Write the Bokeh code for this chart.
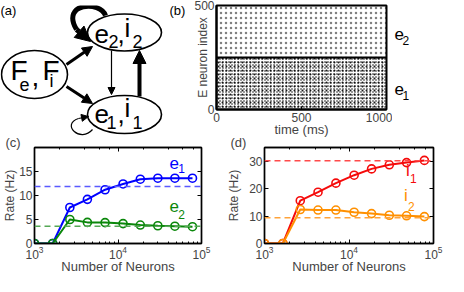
from bokeh.plotting import figure
from bokeh.layouts import column, row
from bokeh.models import (Range1d, FixedTicker, LogAxis, LinearAxis, LogTicker,
                          Label, Arrow, NormalHead, Span, Title)
from bokeh.embed import file_html
from bokeh.resources import INLINE

FONT = "Liberation Sans"

# ---------------- data ----------------
# (a) network diagram: nodes F, (e2,i2), (e1,i1); y measured downward
node_x = [42, 132, 132]
node_y = [77, 35, 117]
node_w = [66, 74, 74]
node_h = [48, 37, 38]
# straight connections: F->e2, F->e1, e2->e1, e1->e2
arrow_x0 = [74, 74, 119, 147]
arrow_y0 = [67, 89, 53, 99]
arrow_x1 = [100, 100, 119, 147]
arrow_y1 = [49, 106, 97, 53]
arrow_lw = [3, 3, 1.2, 4]
arrow_head = [10, 10, 7, 13]
# self connections (e2->e2 strong, e1->e1 weak)
loop_x0 = [113, 100]
loop_y0 = [18, 132]
loop_cx0 = [108, 88]
loop_cy0 = [3, 146]
loop_cx1 = [68, 68]
loop_cy1 = [5, 127]
loop_x1 = [84, 86]
loop_y1 = [32, 121]
loop_tip_x = [98, 96]
loop_tip_y = [44, 119]
loop_lw = [5, 1.2]
loop_head = [15, 7]

# (b) raster
t_start = [0]
t_end = [1000]
pop_lo = [0, 250]      # e1, e2 neuron index ranges
pop_hi = [250, 500]
raster_xticks = [0, 500, 1000]
raster_yticks = [0, 500]

# (c), (d) rates vs network size
n_neurons = [1000, 1650, 2650, 4300, 7000, 11500, 18500, 30000, 48000, 78000]
rate_e1 = [0, 0, 7.5, 9.2, 11.2, 12.4, 13.4, 13.6, 13.6, 13.6]
rate_e2 = [0, 0, 5.0, 4.4, 4.35, 4.15, 3.85, 3.7, 3.6, 3.5]
rate_i1 = [0, 0, 15.6, 18.7, 22.0, 24.9, 27.2, 28.7, 29.5, 30.3]
rate_i2 = [0, 0, 12.4, 12.2, 12.2, 11.4, 10.9, 10.3, 10.1, 9.8]
theory_e1 = 11.9
theory_e2 = 3.6
theory_i1 = 30.2
theory_i2 = 9.4
e_yticks = [0, 5, 10, 15]
i_yticks = [0, 10, 20, 30]

C_E1, C_E1D = "#0000ff", "#5a5aff"
C_E2, C_E2D = "#0a870a", "#55a855"
C_I1, C_I1D = "#f50a0a", "#ff4a4a"
C_I2, C_I2D = "#ff9000", "#ffa33a"


def lab(p, x, y, text, size, color="black", **kw):
    p.add_layout(Label(x=x, y=y, text=text, text_font=FONT, text_font_size=f"{size}px",
                       text_color=color, **kw))


def clear(p):
    p.border_fill_color = None
    p.background_fill_color = None


def blank_fig(width, x0, x1):
    p = figure(frame_width=width, frame_height=140, x_range=Range1d(x0, x1),
               y_range=Range1d(148, 8), toolbar_location=None, output_backend="svg",
               title=None, min_border_left=0, min_border_right=0, min_border_top=0,
               min_border_bottom=0, outline_line_color=None)
    p.axis.visible = False
    p.grid.visible = False
    clear(p)
    return p


# ---------------- (a) ----------------
pa = blank_fig(188, 8, 196)
pa.bezier(x0=loop_x0, y0=loop_y0, x1=loop_x1, y1=loop_y1, cx0=loop_cx0, cy0=loop_cy0,
          cx1=loop_cx1, cy1=loop_cy1, line_width=loop_lw, line_color="black")
pa.ellipse(x=node_x, y=node_y, width=node_w, height=node_h, fill_color="white",
           line_color="black", line_width=1.6)
for i in range(len(arrow_x0)):
    pa.add_layout(Arrow(end=NormalHead(size=arrow_head[i], fill_color="black", line_color="black",
                                       line_width=1),
                        x_start=arrow_x0[i], y_start=arrow_y0[i], x_end=arrow_x1[i],
                        y_end=arrow_y1[i], line_width=arrow_lw[i], line_color="black"))
for i in range(len(loop_x1)):
    pa.add_layout(Arrow(end=NormalHead(size=loop_head[i], fill_color="black", line_color="black",
                                       line_width=1),
                        x_start=loop_x1[i], y_start=loop_y1[i], x_end=loop_tip_x[i],
                        y_end=loop_tip_y[i], line_width=loop_lw[i], line_color="black"))
lab(pa, 8, 20, "(a)", 13)
lab(pa, 177, 20, "(b)", 13)
# F_e , F_i
lab(pa, 18, 88, "F", 28)
lab(pa, 27, 93, "e", 18)
lab(pa, 39, 88, ",", 28)
lab(pa, 50, 88, "F", 28)
lab(pa, 57, 93, "i", 18)
# e2, i2
lab(pa, 102, 45, "e", 26)
lab(pa, 116, 50, "2", 18)
lab(pa, 125, 45, ",", 26)
lab(pa, 132, 45, "i", 26)
lab(pa, 140, 50, "2", 18)
# e1, i1
lab(pa, 102, 125, "e", 26)
lab(pa, 114, 131, "1", 18)
lab(pa, 125, 125, ",", 26)
lab(pa, 132, 125, "i", 26)
lab(pa, 140, 131, "1", 18)

# ---------------- (b) ----------------
pb = figure(width=204, height=140, x_range=Range1d(0, 1000), y_range=Range1d(0, 500),
            toolbar_location=None, output_backend="svg", title=None,
            min_border_left=28, min_border_right=6, min_border_top=5, min_border_bottom=31)
pb.grid.visible = False
clear(pb)
pb.outline_line_color = "black"
pb.outline_line_width = 2
for ax in (pb.xaxis, pb.yaxis):
    ax.axis_line_width = 2
    ax.major_tick_in = 3
    ax.major_tick_out = 0
    ax.minor_tick_line_color = None
    ax.major_label_text_font = FONT
    ax.major_label_text_font_size = "12px"
    ax.axis_label_text_font = FONT
    ax.axis_label_text_font_style = "normal"
pb.xaxis.ticker = FixedTicker(ticks=raster_xticks)
pb.yaxis.ticker = FixedTicker(ticks=raster_yticks)
pb.xaxis.major_label_standoff = 3
pb.yaxis.major_label_standoff = 2
pb.xaxis.axis_label = "time (ms)"
pb.xaxis.axis_label_text_font_size = "13px"
pb.xaxis.axis_label_standoff = -3
pb.yaxis.axis_label = "E neuron index"
pb.yaxis.axis_label_text_font_size = "12px"
pb.yaxis.axis_label_standoff = -19
# e1 (dense) and e2 (sparse) spike textures
for sc, al in [(3, 1.0), (4, 0.9)]:
    pb.quad(left=t_start, right=t_end, bottom=pop_lo[:1], top=pop_hi[:1], fill_color=None,
            line_color=None, hatch_pattern="dot", hatch_scale=sc, hatch_color="black",
            hatch_alpha=al)
pb.quad(left=t_start, right=t_end, bottom=pop_lo[1:], top=pop_hi[1:], fill_color=None,
        line_color=None, hatch_pattern="dot", hatch_scale=5, hatch_color="black",
        hatch_alpha=0.5)
pb.add_layout(Span(location=pop_hi[0], dimension="width", line_color="black", line_width=2))

# population labels to the right of the raster
pe = blank_fig(56, 400, 456)
lab(pe, 402, 42, "e", 17)
lab(pe, 410, 47, "2", 12)
lab(pe, 402, 97, "e", 17)
lab(pe, 410, 102, "1", 12)


# ---------------- (c), (d) ----------------
def rate_fig(letter, left, right, yticks, ymax, offset, ylab_standoff):
    t = Title(text=letter, align="left", offset=offset, standoff=-4, text_font=FONT,
              text_font_size="13px", text_font_style="normal")
    p = figure(width=224, height=151, x_axis_type="log", x_range=Range1d(1e3, 1e5),
               y_range=Range1d(0, ymax), toolbar_location=None, output_backend="svg",
               title=t, min_border_left=left, min_border_right=right, min_border_top=22,
               min_border_bottom=32)
    p.grid.visible = False
    clear(p)
    p.outline_line_color = "black"
    p.outline_line_width = 1.4
    for ax in (p.xaxis, p.yaxis):
        ax.axis_line_width = 1.4
        ax.major_tick_in = 4
        ax.major_tick_out = 0
        ax.minor_tick_in = 2
        ax.minor_tick_out = 0
        ax.major_label_text_font = FONT
        ax.major_label_text_font_size = "12px"
        ax.major_label_standoff = 2
        ax.axis_label_text_font = FONT
        ax.axis_label_text_font_style = "normal"
        ax.axis_label_text_font_size = "13px"
    p.xaxis.axis_label = "Number of Neurons"
    p.xaxis.axis_label_standoff = -3
    p.yaxis.axis_label = "Rate (Hz)"
    p.yaxis.axis_label_text_font_size = "12px"
    p.yaxis.axis_label_standoff = ylab_standoff
    p.yaxis.ticker = FixedTicker(ticks=yticks)
    p.yaxis.minor_tick_line_color = None
    p.add_layout(LogAxis(ticker=LogTicker(), major_label_text_font_size="1px",
                         major_label_text_alpha=0, major_tick_in=4,
                         major_tick_out=0, minor_tick_in=2, minor_tick_out=0,
                         axis_line_width=1.4, major_label_standoff=0), "above")
    p.add_layout(LinearAxis(ticker=FixedTicker(ticks=yticks), major_label_text_font_size="1px",
                            major_label_text_alpha=0,
                            major_tick_in=4, major_tick_out=0, minor_tick_line_color=None,
                            axis_line_width=1.4, major_label_standoff=0), "right")
    return p


def series(p, y, color, theory, dcolor):
    p.add_layout(Span(location=theory, dimension="width", line_color=dcolor, line_width=1.5,
                      line_dash="6 4"))
    p.line(n_neurons, y, line_color=color, line_width=2)
    p.scatter(n_neurons, y, marker="circle", size=8, fill_color=None, line_color=color,
              line_width=1.6)


pc = rate_fig("(c)", 29, 23, e_yticks, 20, -29, -1)
series(pc, rate_e1, C_E1, theory_e1, C_E1D)
series(pc, rate_e2, C_E2, theory_e2, C_E2D)
lab(pc, 41300, 15.6, "e", 17, color=C_E1)
lab(pc, 52600, 14.65, "1", 12, color=C_E1)
lab(pc, 41300, 6.5, "e", 17, color=C_E2)
lab(pc, 52600, 5.15, "2", 12, color=C_E2)

pd = rate_fig("(d)", 37, 15, i_yticks, 35, -34, 5)
series(pd, rate_i1, C_I1, theory_i1, C_I1D)
series(pd, rate_i2, C_I2, theory_i2, C_I2D)
lab(pd, 47200, 23.2, "i", 17, color=C_I1)
lab(pd, 52600, 22.2, "1", 12, color=C_I1)
lab(pd, 44800, 14.2, "i", 17, color=C_I2)
lab(pd, 49900, 11.8, "2", 12, color=C_I2)

layout = column(row(pa, pb, pe), row(pc, pd, margin=(-15, 0, 0, 0)))
open("out.html", "w").write(file_html(layout, INLINE))
